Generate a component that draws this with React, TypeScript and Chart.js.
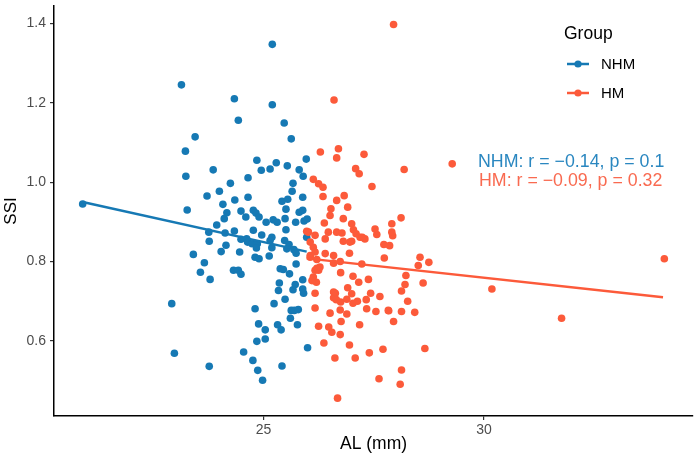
import { useEffect, useRef } from 'react';
import { Chart, registerables } from 'chart.js';

Chart.register(...registerables);

// NHM group (AL in mm, SSI)
const nhmAL = [
  20.90, 23.14, 25.20, 24.34, 25.20, 24.43, 25.47, 23.45, 25.63, 23.23,
  23.24, 23.27, 24.85, 25.29, 25.97, 23.86, 24.95, 25.15, 25.54, 25.81,
  25.90, 24.65, 24.25, 25.67, 23.72, 24.00, 24.65, 24.35, 25.42, 25.55,
  25.65, 25.89, 24.08, 24.49, 24.17, 24.77, 24.83, 24.90, 25.51, 25.81,
  25.89, 25.22, 24.11, 24.60, 25.06, 25.31, 25.49, 25.73, 25.92, 25.99,
  23.94, 24.13, 24.34, 24.77, 24.96, 25.19, 25.51, 25.98, 23.76, 23.77,
  24.49, 24.62, 24.64, 24.74, 24.86, 24.84, 25.15, 25.19, 25.48, 25.58,
  25.53, 25.69, 25.74, 24.15, 24.04, 24.46, 23.41, 24.81, 24.90, 25.13,
  23.66, 25.74, 23.57, 23.79, 24.32, 24.43, 24.49, 22.92, 22.98, 23.77,
  24.81, 24.89, 25.04, 25.04, 24.85, 24.55, 24.76, 24.87, 24.98, 25.24,
  25.49, 25.38, 25.45, 25.59, 25.36, 25.34, 25.67, 25.72, 25.89, 25.89,
  25.91, 25.63, 25.70, 25.79, 25.61, 25.77, 25.32, 25.40, 25.42, 26.00,
];
const nhmSSI = [
  0.945, 1.245, 1.347, 1.210, 1.195, 1.156, 1.149, 1.114, 1.109, 1.078,
  1.015, 0.930, 1.055, 1.049, 1.058, 1.031, 1.030, 1.033, 1.041, 1.031,
  1.015, 1.011, 0.997, 0.997, 0.965, 0.977, 0.962, 0.955, 0.952, 0.957,
  0.977, 0.962, 0.944, 0.927, 0.923, 0.929, 0.922, 0.912, 0.932, 0.924,
  0.929, 0.905, 0.908, 0.912, 0.899, 0.899, 0.908, 0.899, 0.902, 0.907,
  0.892, 0.872, 0.877, 0.879, 0.867, 0.861, 0.880, 0.861, 0.874, 0.851,
  0.856, 0.857, 0.849, 0.845, 0.845, 0.834, 0.853, 0.835, 0.853, 0.843,
  0.832, 0.830, 0.821, 0.841, 0.825, 0.824, 0.818, 0.811, 0.807, 0.814,
  0.797, 0.794, 0.773, 0.755, 0.778, 0.778, 0.768, 0.694, 0.569, 0.536,
  0.681, 0.643, 0.628, 0.605, 0.599, 0.572, 0.551, 0.526, 0.501, 0.694,
  0.705, 0.782, 0.780, 0.769, 0.746, 0.727, 0.729, 0.742, 0.754, 0.731,
  0.720, 0.677, 0.677, 0.679, 0.657, 0.641, 0.641, 0.628, 0.537, 0.583,
];

// HM group
const hmAL = [
  34.09, 30.18, 31.76, 28.55, 28.75, 28.51, 28.23, 28.62, 28.21, 28.13,
  28.27, 28.43, 28.13, 27.84, 27.55, 27.34, 27.95, 27.64, 27.43, 27.33,
  27.13, 27.03, 27.18, 28.66, 27.71, 27.40, 27.08, 28.13, 27.62, 28.10,
  27.74, 27.23, 27.03, 27.16, 27.38, 27.73, 27.86, 27.93, 27.57, 27.30,
  27.19, 27.00, 27.95, 27.28, 28.19, 29.28, 27.09, 27.17, 27.46, 28.12,
  27.91, 27.53, 27.91, 26.60, 26.29, 26.70, 26.66, 26.13, 26.25, 26.35,
  26.35, 26.83, 26.66, 26.91, 26.53, 26.51, 26.38, 26.81, 26.02, 26.17,
  26.47, 26.66, 26.78, 26.40, 27.00, 27.04, 27.10, 27.24, 26.81, 26.96,
  26.13, 26.17, 26.40, 26.59, 26.95, 26.06, 26.21, 26.59, 26.74, 26.21,
  26.17, 26.25, 26.13, 26.20, 26.10, 26.75, 26.91, 27.00, 26.63, 26.59,
  26.65, 26.17, 26.75, 26.89, 26.17, 26.51, 26.74, 26.89, 26.76, 27.83,
  26.25, 26.48, 26.55, 26.74, 26.37, 26.95, 26.62, 26.68, 25.98, 26.06,
  26.06, 26.28, 26.59,
];
const hmSSI = [
  0.807, 0.731, 0.657, 0.811, 0.798, 0.790, 0.765, 0.746, 0.742, 0.726,
  0.700, 0.672, 0.674, 0.676, 0.674, 0.681, 0.649, 0.712, 0.720, 0.704,
  0.700, 0.695, 0.641, 0.581, 0.579, 0.570, 0.557, 0.527, 0.505, 0.491,
  0.809, 0.794, 0.763, 0.748, 0.755, 0.843, 0.840, 0.865, 0.868, 0.857,
  0.861, 0.851, 1.397, 1.070, 1.032, 1.046, 1.034, 1.021, 0.989, 0.910,
  0.895, 0.882, 0.874, 1.207, 1.076, 1.084, 1.061, 1.007, 0.996, 0.987,
  0.964, 0.966, 0.954, 0.937, 0.933, 0.916, 0.897, 0.908, 0.874, 0.866,
  0.874, 0.874, 0.872, 0.857, 0.895, 0.880, 0.870, 0.861, 0.851, 0.849,
  0.836, 0.824, 0.820, 0.815, 0.821, 0.811, 0.805, 0.796, 0.800, 0.783,
  0.778, 0.778, 0.761, 0.748, 0.752, 0.772, 0.734, 0.719, 0.720, 0.709,
  0.704, 0.720, 0.698, 0.705, 0.683, 0.670, 0.678, 0.668, 0.649, 0.677,
  0.637, 0.635, 0.622, 0.616, 0.595, 0.590, 0.557, 0.456, 0.876, 0.849,
  0.815, 0.786, 0.723,
];

// fitted lines, end points
const nhmFitAL = [20.90, 25.98];
const nhmFitSSI = [0.950, 0.825];
const hmFitAL = [25.98, 34.06];
const hmFitSSI = [0.808, 0.710];

const xTicks = [25, 30];
const yTicks = [0.6, 0.8, 1.0, 1.2, 1.4];

const groups = ['NHM', 'HM'];
const corLabels = ['NHM: r = \u22120.14, p = 0.1', 'HM: r = \u22120.09, p = 0.32'];

const BLUE = '#1679B4';
const RED = '#FC5A3A';
const FONT = '"Liberation Sans", Arial, sans-serif';

const toPoints = (xs: number[], ys: number[]) => xs.map((x, i) => ({ x, y: ys[i] }));

const overlayPlugin = {
  id: 'overlay',
  afterDraw(chart: any) {
    const { ctx } = chart;
    ctx.save();
    ctx.textBaseline = 'middle';
    ctx.textAlign = 'left';
    // legend
    ctx.fillStyle = '#000';
    ctx.font = `17.5px ${FONT}`;
    ctx.fillText('Group', 564, 34);
    const colors = [BLUE, RED];
    const rows = [64, 93];
    groups.forEach((g, i) => {
      ctx.strokeStyle = colors[i];
      ctx.lineWidth = 2.5;
      ctx.beginPath();
      ctx.moveTo(567, rows[i]);
      ctx.lineTo(589, rows[i]);
      ctx.stroke();
      ctx.fillStyle = colors[i];
      ctx.beginPath();
      ctx.arc(578, rows[i], 3.6, 0, Math.PI * 2);
      ctx.fill();
      ctx.fillStyle = '#000';
      ctx.font = `15px ${FONT}`;
      ctx.fillText(g, 601, rows[i] + 1);
    });
    // correlation labels
    ctx.font = `17.8px ${FONT}`;
    ctx.fillStyle = '#2A87C0';
    ctx.fillText(corLabels[0], 478, 162);
    ctx.fillStyle = '#F96A50';
    ctx.fillText(corLabels[1], 479, 181);
    ctx.restore();
  },
};

export default function App() {
  const canvasRef = useRef<HTMLCanvasElement>(null);

  useEffect(() => {
    document.body.style.margin = '0';
    if (!canvasRef.current) return;
    const chart = new Chart(canvasRef.current, {
      type: 'scatter',
      data: {
        datasets: [
          {
            type: 'line',
            label: 'NHM fit',
            data: toPoints(nhmFitAL, nhmFitSSI),
            borderColor: BLUE,
            borderWidth: 2.5,
            pointRadius: 0,
            order: 0,
          },
          {
            type: 'line',
            label: 'HM fit',
            data: toPoints(hmFitAL, hmFitSSI),
            borderColor: RED,
            borderWidth: 2.5,
            pointRadius: 0,
            order: 0,
          },
          {
            label: 'HM',
            data: toPoints(hmAL, hmSSI),
            backgroundColor: RED,
            borderWidth: 0,
            pointRadius: 3.8,
            order: 1,
          },
          {
            label: 'NHM',
            data: toPoints(nhmAL, nhmSSI),
            backgroundColor: BLUE,
            borderWidth: 0,
            pointRadius: 3.8,
            order: 2,
          },
        ],
      },
      options: {
        animation: false,
        responsive: true,
        maintainAspectRatio: false,
        layout: { padding: { top: 6, right: 6, left: 0, bottom: 0 } },
        plugins: {
          legend: { display: false },
          tooltip: { enabled: false },
        },
        scales: {
          x: {
            type: 'linear',
            min: 20.25,
            max: 34.74,
            afterBuildTicks: (s: any) => {
              s.ticks = xTicks.map((v) => ({ value: v }));
            },
            afterFit: (s: any) => {
              s.height = 47;
              s.paddingLeft = 0;
              s.paddingRight = 0;
            },
            grid: { drawOnChartArea: false, drawTicks: true, tickLength: 4, color: '#333', lineWidth: 1.2 },
            border: { display: true, color: '#000', width: 1.5 },
            ticks: { color: '#4D4D4D', font: { family: FONT, size: 14 }, padding: 2 },
            title: { display: true, text: 'AL (mm)', color: '#000', font: { family: FONT, size: 17.5 }, padding: { top: 2, bottom: 8 } },
          },
          y: {
            type: 'linear',
            min: 0.411,
            max: 1.4436,
            afterBuildTicks: (s: any) => {
              s.ticks = yTicks.map((v) => ({ value: v }));
            },
            afterFit: (s: any) => {
              s.width = 54;
              s.paddingTop = 0;
              s.paddingBottom = 0;
            },
            grid: { drawOnChartArea: false, drawTicks: true, tickLength: 4, color: '#333', lineWidth: 1.2 },
            border: { display: true, color: '#000', width: 1.5 },
            ticks: {
              color: '#4D4D4D',
              font: { family: FONT, size: 14 },
              padding: 4,
              callback: (v: any) => Number(v).toFixed(1),
            },
            title: { display: true, text: 'SSI', color: '#000', font: { family: FONT, size: 17 }, padding: { bottom: 0, top: 1 } },
          },
        },
      },
      plugins: [overlayPlugin],
    });
    return () => chart.destroy();
  }, []);

  return (
    <div style={{ position: 'relative', width: 699, height: 463, background: '#fff' }}>
      <canvas ref={canvasRef} />
    </div>
  );
}
